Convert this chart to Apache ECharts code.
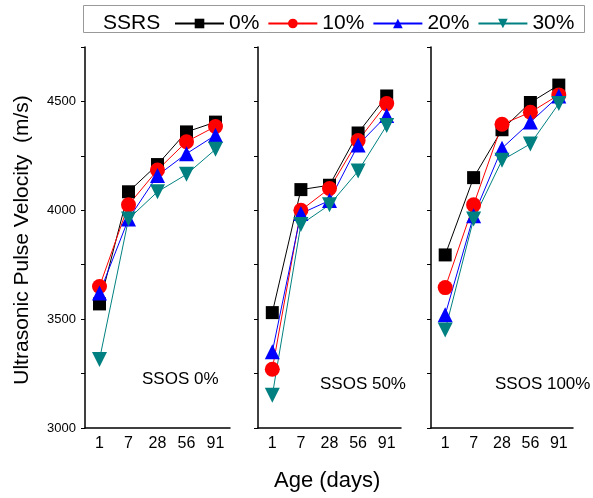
<!DOCTYPE html>
<html>
<head>
<meta charset="utf-8">
<script src="https://cdn.jsdelivr.net/npm/echarts@6/dist/echarts.min.js"></script>
<style>
html, body { margin: 0; padding: 0; background: #fff; }
#chart { width: 593px; height: 498px; }
</style>
</head>
<body>
<div id="chart"></div>
<script>
// 数据
var ages = ['1', '7', '28', '56', '91'];
var mixNames = ['0%', '10%', '20%', '30%'];
var panelNames = ['SSOS 0%', 'SSOS 50%', 'SSOS 100%'];

// SSOS 0%
var p0_r0 = [3570, 4085, 4210, 4360, 4405];
var p0_r10 = [3650, 4025, 4185, 4315, 4385];
var p0_r20 = [3620, 3960, 4160, 4260, 4345];
var p0_r30 = [3315, 3960, 4085, 4165, 4280];
// SSOS 50%
var p1_r0 = [3530, 4095, 4115, 4355, 4525];
var p1_r10 = [3270, 4000, 4100, 4320, 4490];
var p1_r20 = [3350, 3985, 4045, 4300, 4435];
var p1_r30 = [3150, 3935, 4025, 4180, 4390];
// SSOS 100%
var p2_r0 = [3795, 4150, 4370, 4495, 4575];
var p2_r10 = [3645, 4025, 4395, 4450, 4530];
var p2_r20 = [3520, 3975, 4285, 4405, 4525];
var p2_r30 = [3450, 3960, 4230, 4305, 4490];

var panelData = [
	[p0_r0, p0_r10, p0_r20, p0_r30],
	[p1_r0, p1_r10, p1_r20, p1_r30],
	[p2_r0, p2_r10, p2_r20, p2_r30]
];

var colors = ['#000000', '#ff0000', '#0000ff', '#008080'];
var symbols = ['rect', 'circle', 'triangle', 'path://M0,0 L10,0 L5,9 Z'];
var symbolSizes = [13, 15, 15, 15];
var font = 'Liberation Sans, Arial, sans-serif';

var grids = [
	{ left: 85, width: 145, top: 47, height: 381 },
	{ left: 258, width: 143, top: 47, height: 381 },
	{ left: 431, width: 142, top: 47, height: 381 }
];

var xAxes = [], yAxes = [], series = [];
grids.forEach(function(g, i) {
	xAxes.push({
		type: 'category',
		gridIndex: i,
		data: ages,
		boundaryGap: true,
		axisLine: { lineStyle: { color: '#000', width: 1.5 } },
		axisTick: { alignWithLabel: true, length: 5, lineStyle: { color: '#000' } },
		axisLabel: { color: '#000', fontSize: 16, fontFamily: font, margin: 8 },
		splitLine: { show: false }
	});
	yAxes.push({
		type: 'value',
		gridIndex: i,
		min: 3000,
		max: 4750,
		interval: 250,
		axisLine: { show: true, lineStyle: { color: '#000', width: 1.5 } },
		axisTick: { show: true, length: 4, lineStyle: { color: '#000' } },
		axisLabel: {
			show: i === 0, color: '#000', fontSize: 13, fontFamily: font, margin: 9,
			// 只显示500的整数倍
			formatter: function(v) { return v % 500 === 0 ? String(v) : ''; }
		},
		splitLine: { show: false }
	});
	panelData[i].forEach(function(vals, k) {
		series.push({
			name: mixNames[k],
			type: 'line',
			xAxisIndex: i,
			yAxisIndex: i,
			data: vals,
			symbol: symbols[k],
			symbolSize: symbolSizes[k],
			showAllSymbol: true,
			lineStyle: { color: colors[k], width: 1 },
			itemStyle: { color: colors[k] },
			emphasis: { disabled: true },
			animation: false
		});
	});
});

var option = {
	animation: false,
	color: colors,
	grid: grids,
	xAxis: xAxes,
	yAxis: yAxes,
	legend: {
		data: mixNames,
		left: 169,
		top: 8,
		itemWidth: 49,
		itemHeight: 12,
		itemGap: 8,
		textStyle: { color: '#000', fontSize: 21, fontFamily: font }
	},
	graphic: [
		{ type: 'rect', shape: { x: 83.5, y: 5.5, width: 501, height: 27 },
		  style: { fill: 'none', stroke: '#999', lineWidth: 1 } },
		{ type: 'text', left: 103, top: 13, style: { text: 'SSRS', font: '21px ' + font, fill: '#000' } },
		{ type: 'text', left: 142, top: 371, style: { text: panelNames[0], font: '17px ' + font, fill: '#000' } },
		{ type: 'text', left: 320, top: 376, style: { text: panelNames[1], font: '17px ' + font, fill: '#000' } },
		{ type: 'text', left: 495, top: 376, style: { text: panelNames[2], font: '17px ' + font, fill: '#000' } },
		{ type: 'text', left: 274, top: 470, style: { text: 'Age (days)', font: '22px ' + font, fill: '#000' } },
		{ type: 'text', x: 22, y: 240, rotation: Math.PI / 2,
		  style: { text: 'Ultrasonic Pulse Velocity  (m/s)', font: '21px ' + font, fill: '#000', align: 'center', verticalAlign: 'middle' } }
	],
	series: series
};

var myChart = echarts.init(document.getElementById('chart'));
myChart.setOption(option);
</script>
</body>
</html>
